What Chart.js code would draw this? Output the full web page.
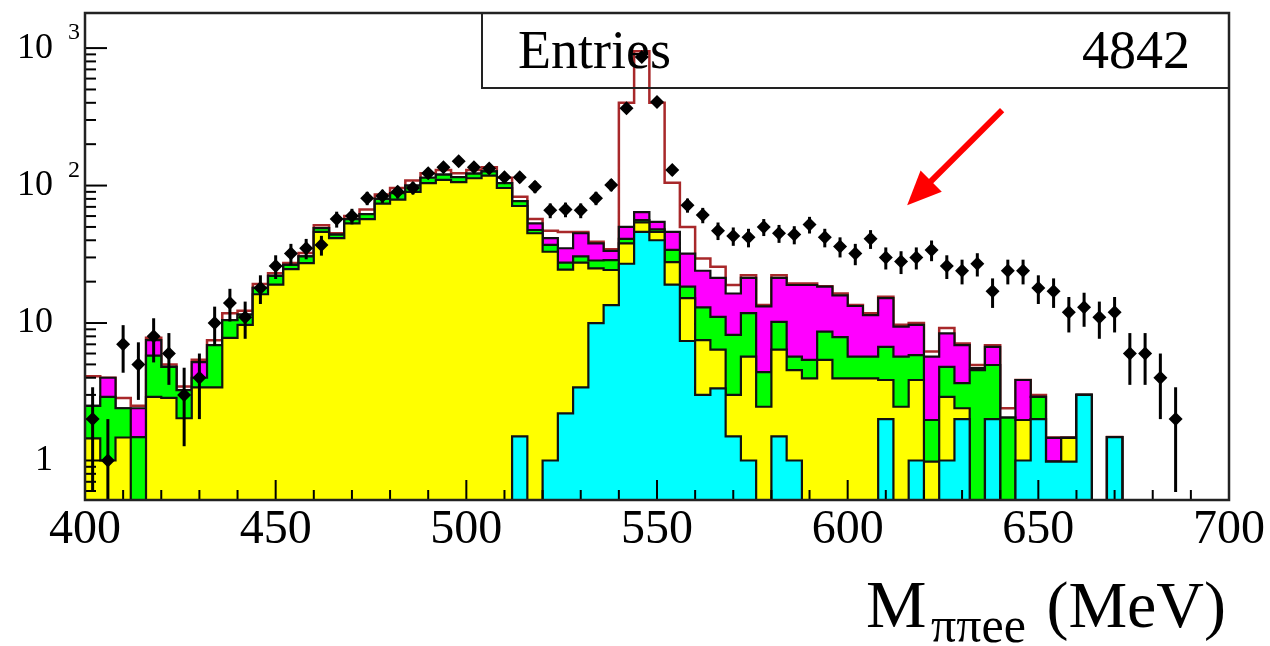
<!DOCTYPE html>
<html><head><meta charset="utf-8">
<script src="https://cdn.jsdelivr.net/npm/chart.js@4.4.1/dist/chart.umd.min.js"></script>
<style>html,body{margin:0;padding:0;background:#fff;}#wrap{width:1270px;height:646px;position:relative;}</style>
</head><body><div id="wrap"><canvas id="c" width="1270" height="646"></canvas></div>
<script>
// ---- histogram binning ----
const histMin = 400, histMax = 700, binWidth = 4;
// ---- axis ticks ----
const xTickLabels = [400, 450, 500, 550, 600, 650, 700];
const yTickLabels = [1, 10, 100, 1000];
const yMin = 0.516, yMax = 1800;
// ---- data (counts per 4 MeV bin) ----
const dataCounts = [2,1,7,5,8,6,3,4,10,14,11,18,26,32,35,37,57,60,81,84,90,96,123,136,150,136,133,115,115,98,66,67,66,81,101,365,860,405,130,72,61,47,43,42,50,45,44,52,42,36,32,41,30,28,30,34,26,24,27,17,24,24,18,17,12,13,11,12,6,6,4,2,0,0,0];
const dataErrors = [1.41,1,2.65,2.24,2.83,2.45,1.73,2,3.16,3.74,3.32,4.24,5.1,5.66,5.92,6.08,7.55,7.75,9,9.17,9.49,9.8,11.09,11.66,12.25,11.66,11.53,10.72,10.72,9.9,8.12,8.19,8.12,9,10.05,19.1,29.33,20.12,11.4,8.49,7.81,6.86,6.56,6.48,7.07,6.71,6.63,7.21,6.48,6,5.66,6.4,5.48,5.29,5.48,5.83,5.1,4.9,5.2,4.12,4.9,4.9,4.24,4.12,3.46,3.61,3.32,3.46,2.45,2.45,2,1.41,0,0,0];
// ---- stacked MC (cumulative level of each layer, bottom to top) ----
const cyanLevel = [0,0,0,0,0,0,0,0,0,0,0,0,0,0,0,0,0,0,0,0,0,0,0,0,0,0,0,0,1.5,0,1.0,2.2,3.4,10,13.5,27,46,40,19,7.4,3.0,3.35,1.5,1.0,0,1.5,1.0,0,0,0,0,0,2.0,0,1.0,0,1.0,2.0,0,2.0,0,1.0,2.0,0.98,0.98,3.0,0,1.48,0,0,0,0,0,0,0];
const yellowLevel = [1.45,1.0,1.47,0,2.9,2.85,2.03,3.4,3.4,7.8,9.7,16.2,19,24.7,27.3,46,41.5,53,57,74,79,90,104,110,106,113,118,96,71,45,33,24.5,27.5,25,24.3,38,54,46,27.7,15.2,7.5,6.4,3.0,5.7,2.46,6.4,4.55,3.96,5.4,3.96,3.96,3.96,3.85,2.46,3.85,0.98,2.9,2.4,0,2.0,0,1.97,2.0,0.98,1.46,3.0,0,1.48,0,0,0,0,0,0,0];
const greenLevel = [2.5,2.9,2.4,1.48,5.8,4.8,3.25,4.0,6.9,10.5,11.5,18,22,26.5,30.5,49,44,57,62,80,88,100,114,120,115,122,127,104,77,47.5,37,27.5,30.5,28.5,28.7,41,56,48,34,18.4,13,11.1,8.2,11.8,4.4,10.2,5.7,5.4,8.65,7.9,5.7,5.7,6.7,5.7,5.85,1.97,4.8,3.66,4.55,4.95,2.05,1.97,2.9,0.98,1.46,3.0,0,1.48,0,0,0,0,0,0,0];
const magentaLevel = [2.5,4.0,2.4,2.4,7.5,4.8,3.25,5.2,6.9,10.5,11.5,18,22,26.5,30.5,49,44,57,62,80,88,100,114,120,115,122,127,104,77,53,41.5,35,45,38,33.5,50,64,54.5,46,32,24,21.3,16.4,21.3,13.2,21.3,18.9,18.9,18.4,15.9,13.3,11.4,15.2,9.4,9.7,5.7,8.4,6.9,4.7,6.7,2.05,3.85,2.9,1.46,1.46,3.0,0,1.48,0,0,0,0,0,0,0];
const totalLevel = [4.1,4.0,2.85,2.5,7.8,5.0,3.45,5.4,7.5,11.8,12.3,19.2,23,27.3,32.3,51.5,45,60,67,86,96,109,123,130,123,130,136,114,83,57,47,46,46,39,34.4,400,950,400,105,50,29.5,25.7,18.9,22.3,13.5,22.3,19.4,19.4,18.5,16.4,13.5,11.8,15.5,9.7,10,6.2,9.2,7.1,4.95,6.9,2.4,3.85,3.0,1.47,1.47,3.0,0,1.48,0,0,0,0,0,0,0];
// ---- annotation ----
const statLabel = 'Entries', statValue = '4842';
const arrowFrom = {x: 640.5, y: 354}, arrowTo = {x: 615.6, y: 72};

// empty bins are drawn below the visible log range (a log axis cannot hold 0)
const emptyBinFloor = yMin * 0.4;
function stepPoints(levels){
  const pts = levels.map((v,i)=>({x: histMin + i*binWidth, y: v > 0 ? v : emptyBinFloor}));
  pts.push({x: histMax, y: pts[pts.length-1].y});
  return pts;
}
const dataPoints = [];
dataCounts.forEach((v,i)=>{ if(v>0) dataPoints.push({x: histMin + (i+0.5)*binWidth, y: v, e: dataErrors[i]}); });

const SERIF = '"Liberation Serif", "Times New Roman", serif';
function layer(label, levels, fillColor, lineColor, order, lw){
  return {label, data: stepPoints(levels), stepped: true, fill: 'start', backgroundColor: fillColor,
    borderColor: lineColor, borderWidth: lw, pointRadius: 0, pointHoverRadius: 0, order, tension: 0, clip: 0};
}

const rootPlugin = {
  id: 'rootStyle',
  beforeDatasetDraw(chart, args){
    if(args.index !== 0) return;
    const {ctx, chartArea: a, scales: {x, y}} = chart;
    ctx.save();
    ctx.beginPath(); ctx.rect(a.left, a.top, a.right-a.left, a.bottom-a.top); ctx.clip();
    ctx.strokeStyle = '#000'; ctx.lineWidth = 3;
    dataPoints.forEach(p=>{
      const px = x.getPixelForValue(p.x);
      const lo = p.y - p.e;
      const y1 = lo > 0 ? y.getPixelForValue(lo) : a.bottom;
      const y2 = y.getPixelForValue(p.y + p.e);
      ctx.beginPath(); ctx.moveTo(px, y1); ctx.lineTo(px, y2); ctx.stroke();
    });
    ctx.restore();
  },
  afterDatasetsDraw(chart){
    const {ctx, chartArea: a, scales: {x, y}} = chart;
    ctx.save();
    // tick marks inside the frame
    ctx.strokeStyle = '#000'; ctx.lineWidth = 2;
    for(let v = histMin; v < histMax; v += 10){
      const px = x.getPixelForValue(v);
      const len = (v % 50 === 0) ? 20 : 10;
      ctx.beginPath(); ctx.moveTo(px, a.bottom); ctx.lineTo(px, a.bottom - len); ctx.stroke();
    }
    for(let d = -1; d <= 3; d++){
      for(let m = 1; m <= 9; m++){
        const v = m * Math.pow(10, d);
        if(v < yMin || v > yMax) continue;
        const py = y.getPixelForValue(v);
        const len = m === 1 ? 22 : 11;
        ctx.beginPath(); ctx.moveTo(a.left, py); ctx.lineTo(a.left + len, py); ctx.stroke();
      }
    }
    // frame
    ctx.strokeStyle = '#222'; ctx.lineWidth = 2.5;
    ctx.strokeRect(a.left, a.top, a.right - a.left, a.bottom - a.top);
    // stats box
    ctx.strokeStyle = '#222'; ctx.lineWidth = 2;
    ctx.strokeRect(482, a.top, a.right - 482, 88 - a.top);
    ctx.fillStyle = '#000';
    ctx.font = '54px ' + SERIF; ctx.textBaseline = 'alphabetic';
    ctx.textAlign = 'left'; ctx.fillText(statLabel, 518, 68);
    ctx.textAlign = 'right'; ctx.fillText(statValue, 1190, 68);
    ctx.restore();
  },
  afterDraw(chart){
    const {ctx, chartArea: a, scales: {x, y}} = chart;
    ctx.save();
    // exponents of y labels
    ctx.fillStyle = '#000'; ctx.font = '24px ' + SERIF; ctx.textAlign = 'left'; ctx.textBaseline = 'middle';
    [[100,'2'],[1000,'3']].forEach(([v,t])=>{ ctx.fillText(t, 68, y.getPixelForValue(v) - 15); });
    // axis title
    ctx.textBaseline = 'alphabetic';
    ctx.font = '68px ' + SERIF; ctx.fillText('M', 866, 627);
    ctx.font = '50px ' + SERIF; ctx.fillText('\u03c0\u03c0ee', 931, 642);
    ctx.font = '66px ' + SERIF; ctx.textAlign = 'right'; ctx.fillText('(MeV)', 1226, 627);
    // red arrow
    const x1 = x.getPixelForValue(arrowFrom.x), y1 = y.getPixelForValue(arrowFrom.y);
    const x2 = x.getPixelForValue(arrowTo.x), y2 = y.getPixelForValue(arrowTo.y);
    const dx = x2 - x1, dy = y2 - y1, L = Math.hypot(dx, dy), ux = dx / L, uy = dy / L;
    const hl = 34, hw = 15;
    const bx = x2 - ux * hl, by = y2 - uy * hl;
    ctx.strokeStyle = '#ff0000'; ctx.fillStyle = '#ff0000'; ctx.lineWidth = 6;
    ctx.beginPath(); ctx.moveTo(x1, y1); ctx.lineTo(bx + ux * 4, by + uy * 4); ctx.stroke();
    ctx.beginPath(); ctx.moveTo(x2, y2); ctx.lineTo(bx - uy * hw, by + ux * hw); ctx.lineTo(bx + uy * hw, by - ux * hw); ctx.closePath(); ctx.fill();
    ctx.restore();
  }
};

new Chart(document.getElementById('c'), {
  type: 'line',
  data: {
    datasets: [
      {label: 'data', data: dataPoints, showLine: false, pointStyle: 'rectRot', pointRadius: 7, pointHoverRadius: 7,
       backgroundColor: '#000', borderColor: '#000', borderWidth: 0, order: 0},
      layer('cyan', cyanLevel, '#00ffff', '#111', 1, 2.2),
      layer('yellow', yellowLevel, '#ffff00', '#111', 2, 2.2),
      layer('green', greenLevel, '#00ff00', '#111', 3, 2.2),
      layer('magenta', magentaLevel, '#ff00ff', '#111', 4, 2.2),
      layer('total', totalLevel, '#ffffff', '#a8282a', 5, 2.5)
    ]
  },
  options: {
    responsive: false, animation: false, devicePixelRatio: 1,
    layout: {padding: {top: 13, right: 41, left: 0, bottom: 0}},
    plugins: {legend: {display: false}, tooltip: {enabled: false}},
    scales: {
      x: {type: 'linear', min: histMin, max: histMax, bounds: 'data',
          grid: {display: false, drawTicks: false}, border: {display: false},
          afterBuildTicks: s => { s.ticks = xTickLabels.map(v => ({value: v})); },
          afterFit: s => { s.height = 146; s.paddingLeft = 0; s.paddingRight = 0; },
          ticks: {color: '#000', font: {family: SERIF, size: 48}, padding: 2, maxRotation: 0, autoSkip: false,
                  callback: v => String(v)}},
      y: {type: 'logarithmic', min: yMin, max: yMax, bounds: 'data',
          grid: {display: false, drawTicks: false}, border: {display: false},
          afterBuildTicks: s => { s.ticks = yTickLabels.map(v => ({value: v})); },
          afterFit: s => { s.width = 85; s.paddingTop = 0; s.paddingBottom = 0; },
          ticks: {color: '#000', font: {family: SERIF, size: 36}, padding: 32, autoSkip: false,
                  callback: v => (Math.abs(v - 1) < 1e-9 ? '1' : '10')}}
    }
  },
  plugins: [rootPlugin]
});
</script></body></html>
